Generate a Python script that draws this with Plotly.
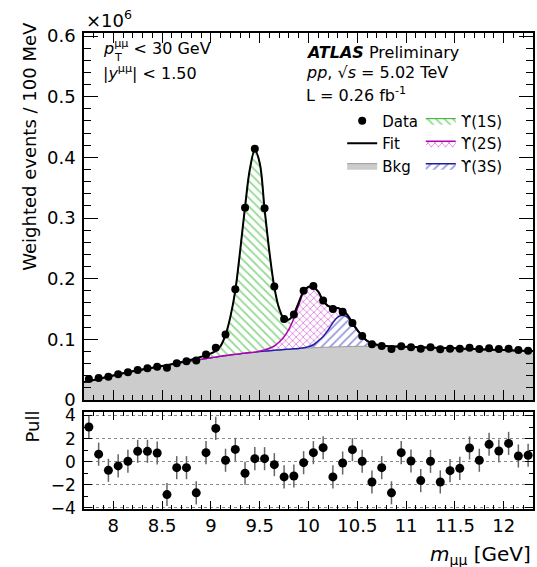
import numpy as np
import plotly.graph_objects as go

# ---- Binned data: dimuon mass bin centres [GeV], weighted events (x1e6), pulls
mass = [7.75, 7.85, 7.95, 8.05, 8.15, 8.25, 8.35, 8.45, 8.55, 8.65,
        8.75, 8.85, 8.95, 9.05, 9.15, 9.25, 9.35, 9.45, 9.55, 9.65,
        9.75, 9.85, 9.95, 10.05, 10.15, 10.25, 10.35, 10.45, 10.55, 10.65,
        10.75, 10.85, 10.95, 11.05, 11.15, 11.25, 11.35, 11.45, 11.55, 11.65,
        11.75, 11.85, 11.95, 12.05, 12.15, 12.25]
events = [0.0346, 0.0363, 0.0384, 0.0424, 0.0457, 0.0495, 0.0523, 0.0549, 0.0532, 0.0605,
          0.0638, 0.0650, 0.0750, 0.0860, 0.1080, 0.1825, 0.3170, 0.4140, 0.3160, 0.1870,
          0.1335, 0.1410, 0.1800, 0.1880, 0.1640, 0.1500, 0.1455, 0.1270, 0.1055, 0.0920,
          0.0890, 0.0840, 0.0885, 0.0870, 0.0846, 0.0870, 0.0836, 0.0846, 0.0846, 0.0862,
          0.0840, 0.0852, 0.0840, 0.0846, 0.0824, 0.0813]
pulls = [3.00, 0.65, -0.75, -0.37, 0.03, 0.89, 0.89, 0.75, -2.85, -0.52,
         -0.52, -2.70, 0.78, 2.88, 0.12, 1.06, -1.00, 0.26, 0.26, -0.26,
         -1.32, -1.24, -0.09, 0.78, 1.21, -1.32, -0.12, 1.04, 0.03, -1.76,
         -0.52, -2.70, 0.78, 0.06, -1.64, 0.03, -1.76, -0.78, -0.58, 1.18,
         0.12, 1.50, 0.92, 1.58, 0.49, 0.55]

# ---- Fit components sampled along the mass axis (x1e6 per 100 MeV)
fit_mass = [7.7, 7.8, 7.9, 8.0, 8.1, 8.2, 8.3, 8.4, 8.5, 8.6, 8.7,
            8.75, 8.8, 8.85, 8.9, 8.95, 9.0, 9.05, 9.1, 9.15, 9.2, 9.25, 9.3, 9.35,
            9.4, 9.45, 9.5, 9.55, 9.6, 9.65, 9.7, 9.75, 9.8, 9.85, 9.9, 9.95, 10.0,
            10.05, 10.1, 10.15, 10.2, 10.25, 10.3, 10.35, 10.4, 10.45, 10.5, 10.55,
            10.6, 10.65, 10.7, 10.75, 10.8, 10.85, 10.9,
            11.0, 11.1, 11.2, 11.3, 11.4, 11.5, 11.6, 11.7, 11.8, 11.9, 12.0, 12.1,
            12.2, 12.3]
bkg = [0.0295, 0.0330, 0.0368, 0.0405, 0.0440, 0.0473, 0.0504, 0.0533, 0.0561, 0.0589, 0.0617,
       0.0631, 0.0645, 0.0659, 0.0672, 0.0685, 0.0698, 0.0710, 0.0722, 0.0733, 0.0744, 0.0754,
       0.0764, 0.0773, 0.0782, 0.0790, 0.0798, 0.0806, 0.0813, 0.0820, 0.0826, 0.0832, 0.0838,
       0.0843, 0.0848, 0.0853, 0.0857, 0.0861, 0.0865, 0.0868, 0.0871, 0.0874, 0.0877, 0.0879,
       0.0881, 0.0883, 0.0884, 0.0885, 0.0886, 0.0886, 0.0886, 0.0885, 0.0884, 0.0883, 0.0881,
       0.0877, 0.0872, 0.0867, 0.0862, 0.0856, 0.0851, 0.0845, 0.0840, 0.0834, 0.0829, 0.0823,
       0.0818, 0.0813, 0.0808]
ups1s = [0, 0, 0, 0, 0, 0, 0, 0, 0, 0, 0.001,
         0.0015, 0.002, 0.003, 0.004, 0.005, 0.007, 0.010, 0.017, 0.034, 0.063, 0.105,
         0.170, 0.241, 0.303, 0.333, 0.310, 0.232, 0.158, 0.097, 0.055, 0.030, 0.016,
         0.008, 0.004, 0.002, 0.001, 0, 0, 0, 0, 0, 0, 0, 0, 0, 0, 0, 0, 0, 0, 0, 0, 0, 0,
         0, 0, 0, 0, 0, 0, 0, 0, 0, 0, 0, 0, 0, 0]
ups2s = [0, 0, 0, 0, 0, 0, 0, 0, 0, 0, 0,
         0, 0, 0, 0, 0, 0, 0, 0, 0, 0, 0, 0, 0, 0, 0,
         0.001, 0.002, 0.004, 0.007, 0.013, 0.021, 0.033, 0.050, 0.072, 0.091, 0.098,
         0.095, 0.081, 0.059, 0.040, 0.025, 0.015, 0.008, 0.004, 0.002, 0.001,
         0, 0, 0, 0, 0, 0, 0, 0,
         0, 0, 0, 0, 0, 0, 0, 0, 0, 0, 0, 0, 0, 0]
ups3s = [0, 0, 0, 0, 0, 0, 0, 0, 0, 0, 0,
         0, 0, 0, 0, 0, 0, 0, 0, 0, 0, 0, 0, 0, 0, 0, 0, 0, 0, 0, 0, 0, 0, 0, 0,
         0.001, 0.002, 0.005, 0.011, 0.018, 0.028, 0.040, 0.049, 0.052, 0.048, 0.037,
         0.026, 0.017, 0.009, 0.005, 0.0025, 0.001, 0.0005, 0, 0,
         0, 0, 0, 0, 0, 0, 0, 0, 0, 0, 0, 0, 0, 0]

fit_total = (np.array(bkg) + np.array(ups1s) + np.array(ups2s) + np.array(ups3s)).tolist()

FONT = "DejaVu Sans"
GREEN, MAGENTA, BLUE = "#22b222", "#c000c0", "#3030b8"
UPS = "\u03d2"

fig = go.Figure()

# stacked background + resonance components
fig.add_trace(go.Scatter(
    x=fit_mass, y=bkg, stackgroup="fit", name="Bkg", legend="legend",
    legendgroup="bkg", legendrank=3,
    line=dict(color="#9a9a9a", width=1, shape="spline"), fillcolor="#cccccc",
    hoverinfo="skip"))
fig.add_trace(go.Scatter(
    x=fit_mass, y=ups3s, stackgroup="fit", name=UPS + "(3S)", legend="legend2",
    legendgroup="3s", legendrank=6,
    line=dict(color="#1c1ca8", width=1.5, shape="spline"), fillcolor="white",
    fillpattern=dict(shape="/", fgcolor=BLUE, bgcolor="white", size=6, solidity=0.3),
    hoverinfo="skip"))
fig.add_trace(go.Scatter(
    x=fit_mass, y=ups2s, stackgroup="fit", name=UPS + "(2S)", legend="legend2",
    legendgroup="2s", legendrank=5,
    line=dict(color="#b400b4", width=1.5, shape="spline"), fillcolor="white",
    fillpattern=dict(shape="x", fgcolor=MAGENTA, bgcolor="white", size=5, solidity=0.3),
    hoverinfo="skip"))
fig.add_trace(go.Scatter(
    x=fit_mass, y=ups1s, stackgroup="fit", name=UPS + "(1S)", legend="legend2",
    legendgroup="1s", legendrank=4,
    line=dict(color=GREEN, width=1, shape="spline"), fillcolor="white",
    fillpattern=dict(shape="\\", fgcolor=GREEN, bgcolor="white", size=6, solidity=0.3),
    hoverinfo="skip"))

# total fit curve
fig.add_trace(go.Scatter(
    x=fit_mass, y=fit_total, mode="lines", name="Fit", legend="legend",
    legendgroup="fit", legendrank=2,
    line=dict(color="black", width=2, shape="spline"), hoverinfo="skip"))

# data points
fig.add_trace(go.Scatter(
    x=mass, y=events, mode="markers", name="Data", legend="legend",
    legendgroup="data", legendrank=1,
    marker=dict(color="black", size=8), hoverinfo="skip"))

# pull panel
fig.add_trace(go.Scatter(
    x=mass, y=pulls, mode="markers", xaxis="x2", yaxis="y2", showlegend=False,
    marker=dict(color="black", size=9),
    error_y=dict(type="constant", value=1, color="#666666", thickness=1.5, width=0),
    hoverinfo="skip"))

axis_common = dict(showline=True, linecolor="black", linewidth=1.5, mirror="ticks",
                   ticks="inside", tickcolor="black", zeroline=False, showgrid=False,
                   tickfont=dict(family=FONT, size=18, color="black"))

fig.update_layout(
    width=537, height=567,
    margin=dict(l=84, r=2, t=33, b=58),
    paper_bgcolor="white", plot_bgcolor="white",
    font=dict(family=FONT, color="black"),
    xaxis=dict(axis_common, domain=[0, 1], anchor="y", range=[7.7, 12.3],
               tick0=8, dtick=0.5, ticklen=10, showticklabels=False,
               minor=dict(tick0=8, dtick=0.1, ticklen=5, ticks="inside", tickcolor="black")),
    yaxis=dict(axis_common, domain=[0.229, 1], anchor="x", range=[0, 0.605],
               tick0=0, dtick=0.1, ticklen=14, ticklabelstandoff=3,
               minor=dict(dtick=0.02, ticklen=7, ticks="inside", tickcolor="black")),
    xaxis2=dict(axis_common, domain=[0, 1], anchor="y2", range=[7.7, 12.3],
                tick0=8, dtick=0.5, ticklen=8,
                minor=dict(tick0=8, dtick=0.1, ticklen=4, ticks="inside", tickcolor="black")),
    yaxis2=dict(axis_common, domain=[0, 0.2038], anchor="x2", range=[-4.1, 4.3],
                tickvals=[-4, -2, 0, 2, 4], ticklen=8, ticklabelstandoff=3,
                tickfont=dict(family=FONT, size=17, color="black"),
                showgrid=True, gridcolor="#8a8a8a", gridwidth=1, griddash="dot",
                minor=dict(dtick=1, ticklen=4, ticks="inside", tickcolor="black")),
    legend=dict(x=0.575, y=0.85, xanchor="left", yanchor="top",
                bgcolor="rgba(0,0,0,0)", font=dict(family=FONT, size=15),
                itemwidth=30, tracegroupgap=4, traceorder="normal"),
    legend2=dict(x=0.75, y=0.85, xanchor="left", yanchor="top",
                 bgcolor="rgba(0,0,0,0)", font=dict(family=FONT, size=15),
                 itemwidth=30, tracegroupgap=4, traceorder="normal"),
    showlegend=True,
)

text_font = dict(family=FONT, size=16, color="black")
annotations = [
    dict(text="\u00d710<sup>6</sup>", x=0, y=1, xref="paper", yref="paper",
         xanchor="left", yanchor="bottom", showarrow=False,
         font=dict(family=FONT, size=18, color="black")),
    dict(text="<i>p</i><sup>\u03bc\u03bc</sup> < 30 GeV", x=0.038, y=0.9685,
         xref="paper", yref="paper", xanchor="left", yanchor="middle",
         showarrow=False, font=text_font),
    dict(text="T", x=0.062, y=0.948, xref="paper", yref="paper",
         xanchor="left", yanchor="middle", showarrow=False,
         font=dict(family=FONT, size=11, color="black")),
    dict(text="|<i>y</i><sup>\u03bc\u03bc</sup>| < 1.50", x=0.038, y=0.918,
         xref="paper", yref="paper", xanchor="left", yanchor="middle",
         showarrow=False, font=text_font),
    dict(text="<b><i>ATLAS</i></b> Preliminary", x=0.49, y=0.96,
         xref="paper", yref="paper", xanchor="left", yanchor="middle",
         showarrow=False, font=text_font),
    dict(text="<i>pp</i>, \u221a<i>s</i> = 5.02 TeV", x=0.49, y=0.918,
         xref="paper", yref="paper", xanchor="left", yanchor="middle",
         showarrow=False, font=text_font),
    dict(text="L = 0.26 fb<sup>-1</sup>", x=0.49, y=0.871,
         xref="paper", yref="paper", xanchor="left", yanchor="middle",
         showarrow=False, font=text_font),
    dict(text="Weighted events / 100 MeV", textangle=-90, x=-0.12, y=1.027,
         xref="paper", yref="paper", xanchor="center", yanchor="top",
         showarrow=False, font=dict(family=FONT, size=18, color="black")),
    dict(text="Pull", textangle=-90, x=-0.115, y=0.212,
         xref="paper", yref="paper", xanchor="center", yanchor="top",
         showarrow=False, font=dict(family=FONT, size=18, color="black")),
    dict(text="<i>m</i><sub>\u03bc\u03bc</sub> [GeV]", x=1.0, y=-0.097,
         xref="paper", yref="paper", xanchor="right", yanchor="middle",
         showarrow=False, font=dict(family=FONT, size=20, color="black")),
]
fig.update_layout(annotations=annotations)

fig.write_html("out.html")
